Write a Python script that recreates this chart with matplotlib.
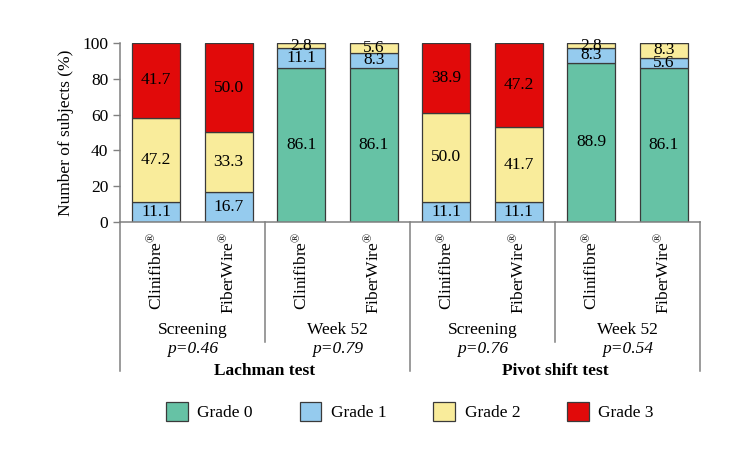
import numpy as np
import matplotlib
matplotlib.use('Agg')
import matplotlib.pyplot as plt

plt.rcParams['font.family'] = ['Liberation Serif', 'DejaVu Serif']
plt.rcParams['mathtext.fontset'] = 'custom'
plt.rcParams['mathtext.rm'] = 'Liberation Serif'
plt.rcParams['mathtext.it'] = 'Liberation Serif:italic'
plt.rcParams['mathtext.bf'] = 'Liberation Serif:bold'

# data
devices = ['Clinifibre', 'FiberWire'] * 4
timepoints = ['Screening', 'Week 52', 'Screening', 'Week 52']
p_values = ['p=0.46', 'p=0.79', 'p=0.76', 'p=0.54']
tests = ['Lachman test', 'Pivot shift test']
grade_names = ['Grade 0', 'Grade 1', 'Grade 2', 'Grade 3']
grade0 = [0, 0, 86.1, 86.1, 0, 0, 88.9, 86.1]
grade1 = [11.1, 16.7, 11.1, 8.3, 11.1, 11.1, 8.3, 5.6]
grade2 = [47.2, 33.3, 2.8, 5.6, 50.0, 41.7, 2.8, 8.3]
grade3 = [41.7, 50.0, 0, 0, 38.9, 47.2, 0, 0]

colors = ['#66C2A5', '#95CBEE', '#F9EC9B', '#E10A0A']
edge = '#3a3a3a'
sep_color = '#808080'

fig = plt.figure(figsize=(7.5, 4.49), dpi=100)
ax = fig.add_axes([0.16, 0.5056, 0.7733, 0.3986])

x = np.arange(len(devices))
bottom = np.zeros(len(devices))
for vals, col, name in zip([grade0, grade1, grade2, grade3], colors, grade_names):
    vals = np.array(vals)
    ax.bar(x, vals, 0.66, bottom=bottom, color=col, edgecolor=edge,
           linewidth=0.9, label=name, zorder=2)
    for xi, b, v in zip(x, bottom, vals):
        if v > 0:
            ax.text(xi, b + v / 2, '%.1f' % v, ha='center', va='center',
                    fontsize=12.5, zorder=3)
    bottom = bottom + vals

ax.set_xlim(-0.5, 7.5)
ax.set_ylim(0, 100)
ax.set_yticks(np.arange(0, 101, 20))
ax.set_ylabel('Number of subjects (%)', fontsize=12.5, labelpad=6)
ax.tick_params(axis='y', labelsize=12.5, length=5, color=sep_color, width=1)
ax.set_xticks(x)
ax.set_xticklabels(['$\\mathrm{%s}^{\\mathrm{®}}$' % d for d in devices],
                   rotation=90, va='top', ha='center', fontsize=12.5)
ax.tick_params(axis='x', length=0, pad=7)

for s in ['top', 'right']:
    ax.spines[s].set_visible(False)
for s in ['left', 'bottom']:
    ax.spines[s].set_color(sep_color)
    ax.spines[s].set_linewidth(1.1)

tr = ax.get_xaxis_transform()
# separators below the axis
for xs in [-0.5, 3.5, 7.5]:
    ax.plot([xs, xs], [0, -0.83], color=sep_color, lw=1.1, transform=tr,
            clip_on=False)
for xs in [1.5, 5.5]:
    ax.plot([xs, xs], [0, -0.67], color=sep_color, lw=1.1, transform=tr,
            clip_on=False)

for i, (t, p) in enumerate(zip(timepoints, p_values)):
    xc = 2 * i + 0.5
    ax.text(xc, -0.605, t, transform=tr, ha='center', va='center',
            fontsize=12.5)
    ax.text(xc, -0.71, p, transform=tr, ha='center', va='center',
            fontsize=12.5, style='italic')
for i, t in enumerate(tests):
    ax.text(4 * i + 1.5, -0.83, t, transform=tr, ha='center', va='center',
            fontsize=12.5, fontweight='bold')

ax.legend(loc='center', bbox_to_anchor=(0.5, -1.06), ncol=4, frameon=False,
          fontsize=12.5, handlelength=1.25, handleheight=1.25,
          handletextpad=0.55, columnspacing=2.7)

fig.savefig('out.png', dpi=100)
